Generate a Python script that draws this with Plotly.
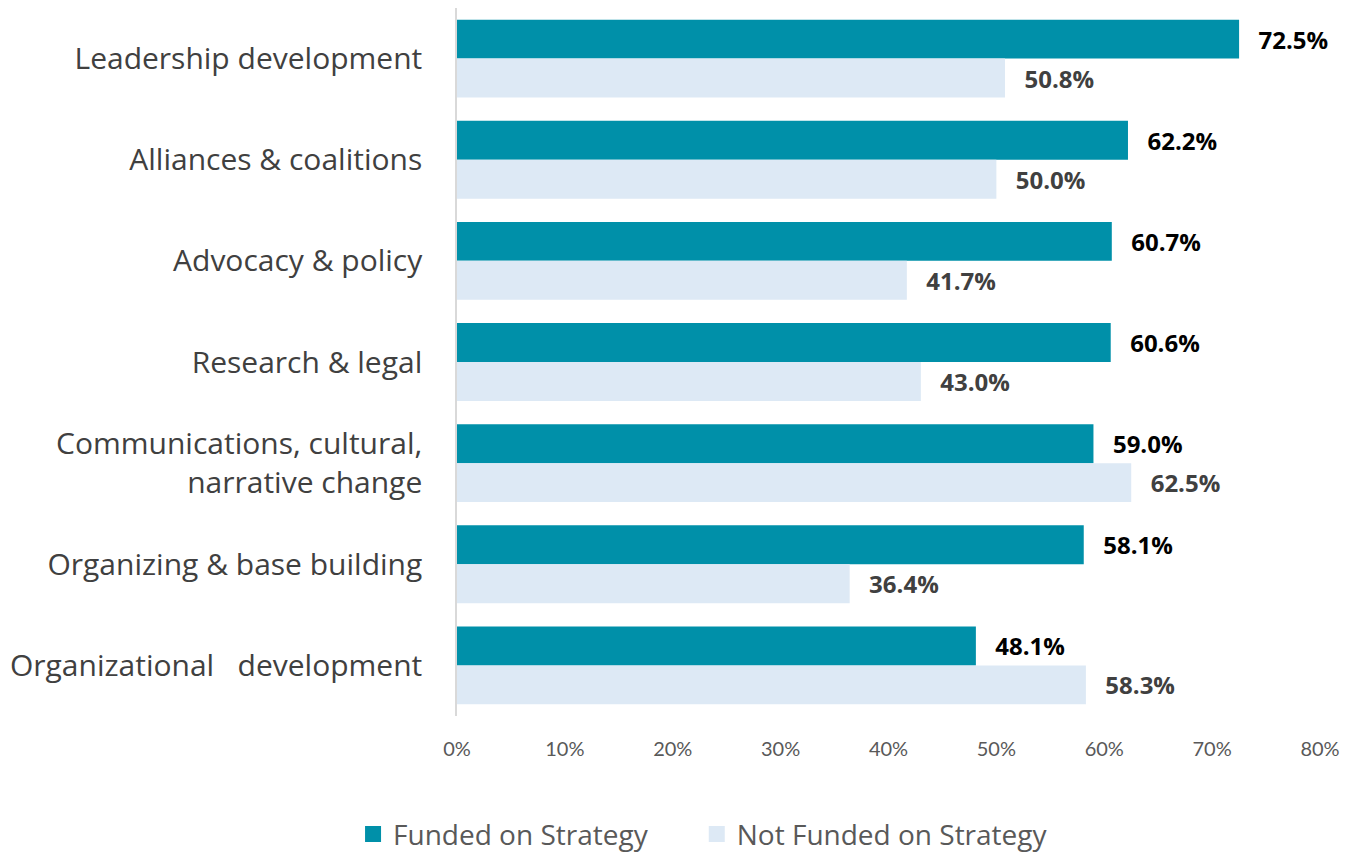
import plotly.graph_objects as go

categories = [
    "Leadership development",
    "Alliances & coalitions",
    "Advocacy & policy",
    "Research & legal",
    "Communications, cultural,<br>narrative change",
    "Organizing & base building",
    "Organizational   development",
]
funded = [72.5, 62.2, 60.7, 60.6, 59.0, 58.1, 48.1]
not_funded = [50.8, 50.0, 41.7, 43.0, 62.5, 36.4, 58.3]
x_ticks = [0, 10, 20, 30, 40, 50, 60, 70, 80]
x_tick_labels = ["0%", "10%", "20%", "30%", "40%", "50%", "60%", "70%", "80%"]
series_names = ["Funded on Strategy", "Not Funded on Strategy"]
colors = ["#0090A9", "#DDE9F5"]
label_colors = ["#000000", "#404040"]

FONT = "Open Sans, sans-serif"
TICKFONT = "Lato, sans-serif"

fig = go.Figure()
for name, vals, col, lcol in zip(series_names, [funded, not_funded], colors, label_colors):
    fig.add_trace(go.Bar(
        y=categories, x=vals, orientation="h", name=name, showlegend=False,
        marker=dict(color=col, line=dict(width=0)),
        text=[f"{v:.1f}%" for v in vals], texttemplate="  \u2009%{text}",
        textposition="outside", cliponaxis=False,
        textfont=dict(family=FONT, size=24, color=lcol, weight="bold"),
    ))
# legend entries with square markers, one legend box each
for name, col, leg in zip(series_names, colors, ["legend", "legend2"]):
    fig.add_trace(go.Scatter(
        x=[None], y=[None], mode="markers", name=name, legend=leg,
        marker=dict(symbol="square", size=17, color=col),
    ))

legend_common = dict(orientation="h", xanchor="left", y=0.022, yanchor="middle",
                     xref="container", yref="container", bgcolor="rgba(0,0,0,0)",
                     font=dict(family=FONT, size=28, color="#595959"),
                     itemclick=False, itemdoubleclick=False)

fig.update_layout(
    width=1340, height=845,
    barmode="group", bargap=0.23, bargroupgap=0,
    plot_bgcolor="white", paper_bgcolor="white",
    margin=dict(l=449, r=28, t=0, b=137, autoexpand=False),
    font=dict(family=FONT, color="#404040"),
    showlegend=True,
    legend=dict(x=0.2575, **legend_common),
    legend2=dict(x=0.514, **legend_common),
    xaxis=dict(range=[0, 80], tickmode="array", tickvals=x_ticks, ticktext=x_tick_labels,
               showgrid=False, zeroline=False, showline=False, automargin=False,
               tickfont=dict(family=TICKFONT, size=20, color="#595959"),
               ticks="", ticklabelstandoff=19),
    yaxis=dict(autorange="reversed", showgrid=False, zeroline=False, automargin=False,
               showline=True, linecolor="#D9D9D9", linewidth=1.5,
               ticks="", ticklabelstandoff=27,
               tickfont=dict(family=FONT, size=30, color="#404040")),
)

fig.write_html("out.html")
